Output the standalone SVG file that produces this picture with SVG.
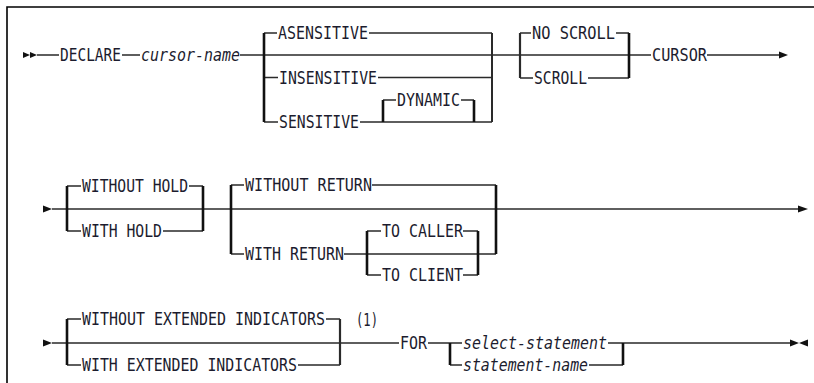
<svg xmlns="http://www.w3.org/2000/svg" width="814" height="383" viewBox="0 0 814 383">
<style>
.t{font-family:"DejaVu Sans Mono","Liberation Mono",monospace;font-size:17px;fill:#1c1c2e}
.i{font-style:italic}
.h{fill:none;stroke:#2a2a2a;stroke-width:1.6}
.v{fill:none;stroke:#111;stroke-width:2.6}
.a{fill:#111}
</style>
<rect width="814" height="383" fill="#fff"/>
<path d="M7,383 V7 H814" fill="none" stroke="#000" stroke-width="1.6"/>
<g id="connectors">
<!-- row 1 -->
<polygon class="a" points="23,52 30,55 23,58"/>
<polygon class="a" points="30,52 37,55 30,58"/>
<path class="h" d="M37,55 H59 M122,55 H140 M240,55 H651 M707,55 H781"/>
<polygon class="a" points="779,51.5 788,55 779,58.5"/>
<path class="h" d="M264,33 H277 M369,33 H492 M264,77.5 H278 M378,77.5 H492 M264,122 H278 M360,122 H492 M383,100 H396 M461,100 H474 M383,122 H474"/>
<path class="v" d="M264,33 V122 M383,100 V122 M474,100 V122"/>
<path class="h" d="M492,33 V122" style="stroke-width:2"/>
<path class="h" d="M520,33 H531 M616,33 H629 M520,78 H533 M588,78 H629"/>
<path class="v" d="M629,33 V78"/>
<path class="h" d="M520,33 V78" style="stroke-width:2.2"/>
<!-- row 2 -->
<polygon class="a" points="43,205.5 52,209 43,212.5"/>
<path class="h" d="M52,209 H800"/>
<polygon class="a" points="798,205.5 808,209 798,212.5"/>
<path class="h" d="M67,186 H81 M189,186 H203 M67,231 H81 M163,231 H203"/>
<path class="v" d="M67,186 V231 M203,186 V231"/>
<path class="h" d="M231,185 H244 M372,185 H496 M231,254 H244 M344,254 H496"/>
<path class="v" d="M231,185 V254 M496,185 V254"/>
<path class="h" d="M367,231 H381 M463,231 H478 M367,275 H381 M463,275 H478"/>
<path class="v" d="M367,231 V275 M478,231 V275"/>
<!-- row 3 -->
<polygon class="a" points="43,339.5 52,343 43,346.5"/>
<path class="h" d="M52,343 H399 M428,343 H462 M608,343 H792"/>
<polygon class="a" points="790,339.5 799,343 790,346.5"/>
<polygon class="a" points="808,339.5 799,343 808,346.5"/>
<path class="h" d="M67,319 H81 M326,319 H340 M67,365 H81 M298,365 H340"/>
<path class="v" d="M67,319 V365"/>
<path class="h" d="M340,319 V365" style="stroke-width:2.2"/>
<path class="h" d="M450,365 H462 M589,365 H623"/>
<path class="v" d="M450,343 V365 M623,343 V365"/>
</g>
<g id="declare"><text class="t" x="60" y="61" textLength="61" lengthAdjust="spacingAndGlyphs">DECLARE</text></g>
<g id="cursor-name"><text class="t i" x="141" y="61" textLength="99" lengthAdjust="spacingAndGlyphs">cursor-name</text></g>
<g id="asensitive"><text class="t" x="278" y="39" textLength="90" lengthAdjust="spacingAndGlyphs">ASENSITIVE</text></g>
<g id="insensitive"><text class="t" x="279" y="83.5" textLength="98" lengthAdjust="spacingAndGlyphs">INSENSITIVE</text></g>
<g id="sensitive"><text class="t" x="279" y="128" textLength="80" lengthAdjust="spacingAndGlyphs">SENSITIVE</text></g>
<g id="dynamic"><text class="t" x="397" y="106" textLength="63" lengthAdjust="spacingAndGlyphs">DYNAMIC</text></g>
<g id="no-scroll"><text class="t" x="532" y="39" textLength="83" lengthAdjust="spacingAndGlyphs">NO SCROLL</text></g>
<g id="scroll"><text class="t" x="534" y="84" textLength="53" lengthAdjust="spacingAndGlyphs">SCROLL</text></g>
<g id="cursor"><text class="t" x="652" y="61" textLength="55" lengthAdjust="spacingAndGlyphs">CURSOR</text></g>
<g id="without-hold"><text class="t" x="82" y="192" textLength="106" lengthAdjust="spacingAndGlyphs">WITHOUT HOLD</text></g>
<g id="with-hold"><text class="t" x="82" y="237" textLength="80" lengthAdjust="spacingAndGlyphs">WITH HOLD</text></g>
<g id="without-return"><text class="t" x="245" y="191" textLength="127" lengthAdjust="spacingAndGlyphs">WITHOUT RETURN</text></g>
<g id="with-return"><text class="t" x="245" y="260" textLength="99" lengthAdjust="spacingAndGlyphs">WITH RETURN</text></g>
<g id="to-caller"><text class="t" x="382" y="237" textLength="81" lengthAdjust="spacingAndGlyphs">TO CALLER</text></g>
<g id="to-client"><text class="t" x="382" y="281" textLength="81" lengthAdjust="spacingAndGlyphs">TO CLIENT</text></g>
<g id="without-ext"><text class="t" x="82" y="325" textLength="243" lengthAdjust="spacingAndGlyphs">WITHOUT EXTENDED INDICATORS</text></g>
<g id="with-ext"><text class="t" x="82" y="371" textLength="215" lengthAdjust="spacingAndGlyphs">WITH EXTENDED INDICATORS</text></g>
<g id="note1"><text class="t" x="356" y="326" textLength="22" lengthAdjust="spacingAndGlyphs">(1)</text></g>
<g id="for"><text class="t" x="400" y="349" textLength="27" lengthAdjust="spacingAndGlyphs">FOR</text></g>
<g id="select-statement"><text class="t i" x="463" y="349" textLength="144" lengthAdjust="spacingAndGlyphs">select-statement</text></g>
<g id="statement-name"><text class="t i" x="463" y="371" textLength="125" lengthAdjust="spacingAndGlyphs">statement-name</text></g>
</svg>
